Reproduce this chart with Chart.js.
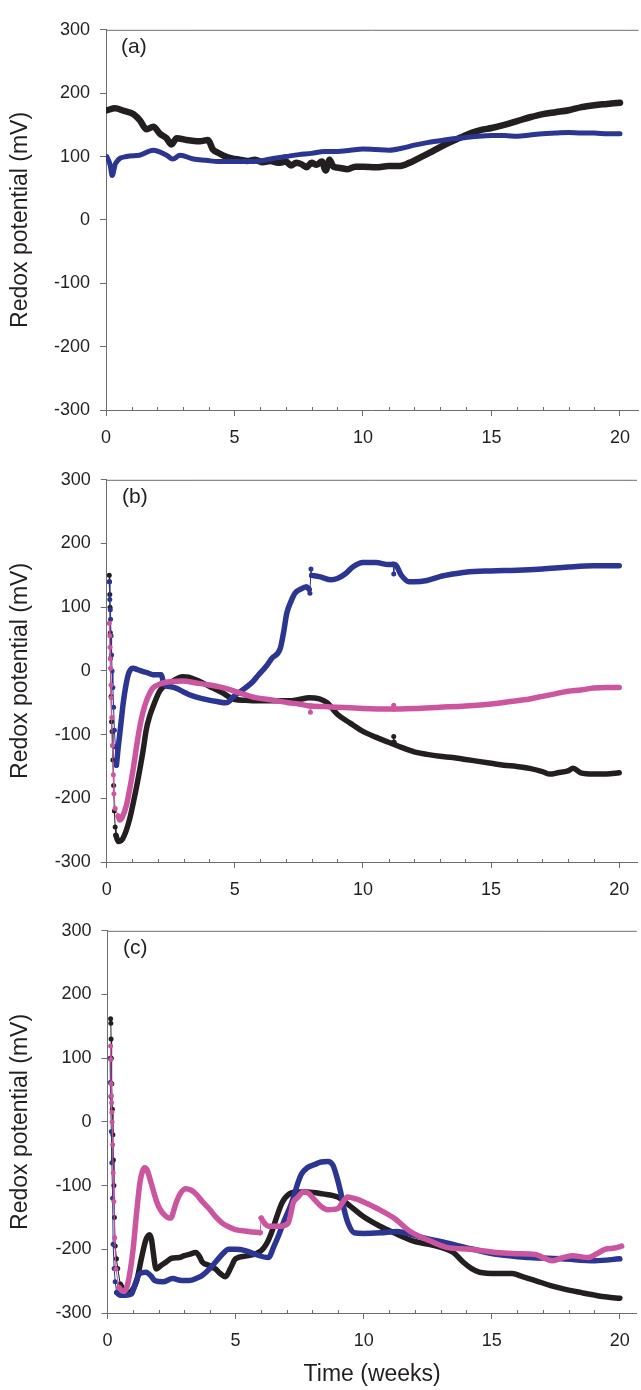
<!DOCTYPE html>
<html><head><meta charset="utf-8">
<script src="https://cdn.jsdelivr.net/npm/chart.js@4.4.1/dist/chart.umd.min.js"></script>
<style>
html,body{margin:0;padding:0;background:#fff;width:641px;height:1390px;overflow:hidden;position:relative;}
canvas{position:absolute;left:0;}
.lbl{position:absolute;font:21px "Liberation Sans",Arial,sans-serif;color:#231f20;line-height:24px;}
</style></head><body>
<canvas id="ca" width="641" height="441" style="top:8.7px"></canvas>
<canvas id="cb" width="641" height="443" style="top:459px"></canvas>
<canvas id="cc" width="641" height="481" style="top:909.7px"></canvas>
<div class="lbl" style="left:121px;top:34px">(a)</div>
<div class="lbl" style="left:122px;top:484px">(b)</div>
<div class="lbl" style="left:123px;top:935px">(c)</div>
<script>
// ---------- data (weeks, mV) ----------
const yTickValues = [-300, -200, -100, 0, 100, 200, 300];
const xTickValues = [0, 5, 10, 15, 20];
const xMinorTicks = [1,2,3,4,6,7,8,9,11,12,13,14,16,17,18,19];

// Panel (a)
const aBlackWeeks = [0.03,0.35,0.7,1.06,1.32,1.58,1.84,2.1,2.35,2.55,2.75,3.13,3.65,3.97,4.16,4.36,4.6,4.9,5.2,5.5,5.8,6.1,6.4,6.7,7.0,7.2,7.4,7.6,7.8,8.0,8.2,8.4,8.55,8.7,8.85,9.1,9.4,9.7,10.0,10.5,11.0,11.4,11.8,12.2,12.6,13.0,13.4,13.8,14.2,14.6,15.0,15.5,16.0,16.5,17.0,17.5,18.0,18.5,19.0,19.5,20.0];
const aBlackMv    = [173,176,172,167,157,143,147,136,129,119,129,126,124,126,111,106,101,97,95,93,95,91,93,90,92,86,90,88,83,90,87,92,78,95,84,82,80,84,84,83,85,85,90,98,106,115,123,130,137,142,145,150,156,162,167,170,173,178,181,183,185];
const aBlueWeeks  = [0.03,0.16,0.24,0.37,0.8,1.3,1.84,2.36,2.6,2.88,3.4,3.9,4.36,5.0,5.5,6.0,6.5,7.0,7.5,8.0,8.5,9.0,9.5,10.0,10.5,11.0,11.5,12.0,12.5,13.0,13.5,14.0,14.5,15.0,15.5,16.0,16.5,17.0,17.5,18.0,18.5,19.0,19.5,20.0];
const aBlueMv     = [100,87,70,89,100,102,110,102,96,102,96,94,92,92,92,93,97,100,103,105,108,108,110,112,111,110,113,118,122,125,128,130,132,133,133,132,134,136,137,138,137,137,136,136];

// Panel (b)
const bBlackDotWeeks = [0.1,0.11,0.12,0.13,0.14,0.15,0.17,0.19,0.21,0.24,0.27,0.3,0.33,0.36,11.0,11.18,11.2,11.22];
const bBlackDotMv    = [150,140,120,100,60,20,-40,-80,-95,-140,-180,-220,-245,-258,null,-112,-103,-112];
const bBlackWeeks = [0.36,0.45,0.6,0.75,0.9,1.1,1.29,1.42,1.54,1.67,1.8,2.06,2.3,2.58,2.96,3.2,3.48,3.75,4.0,4.5,5.0,5.4,5.8,6.5,7.1,7.5,7.9,8.3,8.6,9.0,9.5,10.0,10.5,11.0,11.5,12.0,12.5,13.0,13.5,14.0,14.5,15.0,15.5,16.0,16.5,17.0,17.3,17.6,18.0,18.2,18.5,19.0,19.5,20.0];
const bBlackMv    = [-258,-268,-265,-252,-232,-195,-155,-125,-93,-72,-57,-32,-22,-16,-9,-10,-14,-19,-24,-34,-45,-46,-47,-47,-47,-45,-42,-44,-50,-68,-82,-95,-104,-112,-120,-127,-131,-134,-136,-139,-142,-145,-148,-150,-153,-158,-162,-160,-157,-153,-160,-162,-162,-160];
const bBlueDotWeeks = [0.1,0.12,0.14,0.15,0.17,0.19,0.21,0.24,0.27,0.3,0.34,0.38,7.0,7.9,7.93,7.97,8.0,10.0,11.18,11.2,11.22];
const bBlueDotMv    = [140,112,96,81,55,25,0,-26,-57,-93,-119,-148,null,128,122,160,150,null,168,152,167];
const bBlueWeeks = [0.38,0.45,0.55,0.64,0.74,0.84,0.93,1.03,1.2,1.42,1.6,1.8,2.0,2.13,2.2,2.26,2.5,2.7,3.0,3.2,3.5,3.9,4.3,4.64,4.8,4.9,5.1,5.4,5.7,5.93,6.2,6.45,6.77,6.9,7.03,7.2,7.35,7.55,7.8,7.9,7.95,8.0,8.3,8.77,9.0,9.3,9.6,10.0,10.5,11.0,11.25,11.5,11.8,12.0,12.5,13.0,13.5,14.0,15.0,16.0,17.0,18.0,19.0,20.0];
const bBlueMv    = [-148,-120,-85,-52,-25,-6,2,4,2,-1,-3,-6,-6,-6,-16,-22,-25,-27,-33,-37,-41,-45,-48,-50,-47,-42,-36,-27,-17,-6,6,20,35,60,91,110,122,128,132,128,null,150,148,143,145,152,163,170,170,167,167,150,140,140,142,148,152,155,157,158,160,163,165,165];
const bPinkDotWeeks = [0.1,0.12,0.13,0.14,0.15,0.17,0.18,0.2,0.22,0.26,0.28,0.33,0.45,7.9,7.93,7.95,7.97,10.0,11.18,11.2,11.22];
const bPinkDotMv    = [75,55,37,19,4,-22,-42,-73,-117,-163,-193,-216,-228,null,-55,-65,-55,null,-60,-54,-60];
const bPinkWeeks = [0.45,0.51,0.6,0.77,0.9,1.03,1.16,1.29,1.42,1.55,1.67,1.8,2.0,2.19,2.5,2.96,3.5,4.0,4.4,4.77,5.3,5.8,6.5,7.09,7.5,7.93,8.5,8.95,9.5,10.0,11.0,12.0,13.0,14.0,15.0,16.0,16.5,17.0,17.5,18.0,18.5,19.0,19.5,20.0];
const bPinkMv    = [-228,-234,-230,-211,-185,-155,-120,-88,-64,-47,-36,-27,-22,-19,-17,-16,-19,-22,-25,-29,-36,-42,-46,-50,-52,-55,-56,-57,-58,-59,-60,-59,-57,-55,-52,-47,-44,-40,-36,-32,-30,-27,-26,-26];

// Panel (c)
const cBlackDotWeeks = [0.12,0.13,0.14,0.15,0.17,0.19,0.21,0.23,0.25,0.27,0.3,0.35,0.4,0.5];
const cBlackDotMv    = [162,155,130,100,60,20,-20,-60,-100,-150,-195,-215,-230,-255];
const cBlackWeeks = [0.5,0.74,0.95,1.13,1.32,1.5,1.64,1.72,1.77,1.9,2.1,2.29,2.5,2.8,3.0,3.19,3.45,3.6,3.7,3.95,4.22,4.4,4.6,4.8,5.0,5.5,6.0,6.2,6.4,6.6,6.8,7.1,7.44,7.8,8.4,8.99,9.5,10.0,10.6,11.18,11.95,12.85,13.5,13.88,14.2,14.52,15.2,15.8,16.2,16.7,17.3,18.0,18.5,19.03,19.5,20.0];
const cBlackMv    = [-255,-270,-265,-251,-215,-185,-177,-185,-200,-231,-225,-220,-214,-213,-210,-208,-205,-212,-220,-225,-231,-238,-243,-230,-215,-210,-202,-192,-174,-150,-128,-113,-110,-110,-113,-118,-133,-149,-163,-174,-187,-195,-205,-220,-230,-236,-238,-238,-243,-249,-257,-264,-268,-272,-275,-277];
const cBlueDotWeeks = [0.1,0.11,0.13,0.15,0.17,0.2,0.22,0.26,0.3,0.36];
const cBlueDotMv    = [100,62,40,-15,-64,-120,-192,-230,-251,-268];
const cBlueWeeks = [0.36,0.5,0.7,0.94,1.1,1.26,1.5,1.7,1.84,2.16,2.54,2.9,3.19,3.5,3.7,4.0,4.22,4.5,4.73,5.0,5.38,5.77,6.28,6.5,6.67,6.9,7.18,7.44,7.57,7.8,8.08,8.34,8.6,8.8,8.92,9.1,9.24,9.4,9.63,10.0,10.66,11.3,11.8,12.34,13.24,14.27,15.17,16.46,17.75,19.03,20.0];
const cBlueMv    = [-268,-272,-272,-270,-252,-238,-236,-242,-249,-251,-246,-249,-249,-245,-241,-230,-220,-207,-200,-200,-202,-208,-213,-195,-179,-155,-128,-95,-82,-72,-67,-63,-62,-68,-82,-110,-138,-160,-174,-175,-174,-172,-176,-182,-190,-200,-208,-213,-215,-218,-215];
const cPinkDotWeeks = [0.12,0.13,0.14,0.15,0.16,0.17,0.18,0.2,0.22,0.25,0.28,0.33,0.45,3.0,5.96,6.0];
const cPinkDotMv    = [119,98,60,41,30,15,0,-36,-80,-125,-182,-231,-260,null,-174,-151];
const cPinkWeeks = [0.45,0.6,0.74,0.87,1.0,1.13,1.26,1.36,1.45,1.55,1.64,1.77,1.9,2.05,2.22,2.35,2.48,2.58,2.67,2.85,3.06,3.25,3.45,3.7,3.96,4.2,4.48,4.75,4.99,5.5,5.96,5.98,6.0,6.15,6.28,6.67,7.05,7.15,7.24,7.44,7.63,7.85,8.08,8.35,8.6,8.99,9.2,9.37,9.7,10.02,10.53,11.18,11.82,12.6,13.24,14.14,15.17,16.0,16.71,17.0,17.36,17.7,18.13,18.77,19.1,19.42,19.8,20.07];
const cPinkMv    = [-260,-266,-261,-238,-200,-145,-97,-78,-72,-76,-87,-105,-123,-137,-146,-150,-151,-140,-128,-112,-105,-107,-113,-125,-136,-148,-159,-165,-169,-172,-174,null,-151,-160,-164,-164,-159,-145,-128,-118,-110,-112,-122,-133,-138,-136,-125,-118,-121,-126,-136,-151,-172,-187,-197,-200,-205,-207,-208,-213,-218,-214,-210,-213,-207,-200,-198,-195];

// ---------- styling ----------
const BLACK = '#231f20', BLUE = '#2b3592', PINK = '#cc559f';
const FONT = '"Liberation Sans", Arial, sans-serif';
const AXIS = '#6d6d6d';

function pts(xs, ys) { return xs.map((x, i) => ({x: x, y: ys[i]})); }
function trace(xs, ys, color, width, order) {
  return {data: pts(xs, ys), borderColor: color, backgroundColor: color, borderWidth: width,
    pointRadius: 0, cubicInterpolationMode: 'monotone', borderJoinStyle: 'round', borderCapStyle: 'round',
    spanGaps: false, order: order};
}
function dots(xs, ys, color, order) {
  return {data: pts(xs, ys), borderColor: color, backgroundColor: color, borderWidth: 1,
    pointRadius: 2.5, pointBorderWidth: 0, pointBackgroundColor: color, tension: 0, spanGaps: false, order: order};
}

const framePlugin = {
  id: 'frame',
  afterDraw(chart) {
    const {ctx, chartArea} = chart;
    const xs = chart.scales.x;
    ctx.save();
    ctx.strokeStyle = AXIS; ctx.lineWidth = 1;
    ctx.beginPath();
    ctx.moveTo(chartArea.left, chartArea.top + 0.5);
    ctx.lineTo(chartArea.right, chartArea.top + 0.5);
    xMinorTicks.forEach(v => {
      const px = Math.round(xs.getPixelForValue(v)) + 0.5;
      ctx.moveTo(px, chartArea.bottom);
      ctx.lineTo(px, chartArea.bottom - 3);
    });
    ctx.stroke();
    ctx.restore();
  }
};

function makeChart(id, datasets, axisLeft, areaHeight, xAxisHeight, showXTitle) {
  const c = document.getElementById(id);
  return new Chart(c, {
    type: 'line',
    data: {datasets: datasets},
    plugins: [framePlugin],
    options: {
      responsive: false, animation: false, devicePixelRatio: 1,
      layout: {padding: {top: 12, left: 0, right: 0, bottom: 0}},
      plugins: {legend: {display: false}, tooltip: {enabled: false}, title: {display: false}},
      scales: {
        x: {
          type: 'linear', min: 0, max: (641 - axisLeft) / 25.82,
          afterBuildTicks: s => { s.ticks = xTickValues.map(v => ({value: v})); },
          afterFit: s => { s.height = xAxisHeight; },
          ticks: {autoSkip: false, maxRotation: 0, padding: 11, color: BLACK,
            font: {family: FONT, size: 18}, callback: v => String(v)},
          grid: {drawOnChartArea: false, drawTicks: true, tickLength: 6, tickColor: AXIS},
          border: {display: true, color: AXIS, width: 1},
          title: {display: showXTitle, text: 'Time (weeks)', color: BLACK,
            font: {family: FONT, size: 23}, padding: {top: 0, bottom: 3}}
        },
        y: {
          type: 'linear', min: -300, max: 300,
          afterBuildTicks: s => { s.ticks = yTickValues.map(v => ({value: v})); },
          afterFit: s => { s.width = axisLeft; },
          ticks: {padding: 10, color: BLACK, font: {family: FONT, size: 18}, callback: v => String(v)},
          grid: {drawOnChartArea: false, drawTicks: true, tickLength: 6, tickColor: AXIS},
          border: {display: true, color: AXIS, width: 1},
          title: {display: true, text: 'Redox potential (mV)', color: BLACK,
            font: {family: FONT, size: 23}, padding: {top: 7, bottom: 0}}
        }
      }
    }
  });
}

makeChart('ca', [
  trace(aBlueWeeks, aBlueMv, BLUE, 5, 1),
  trace(aBlackWeeks, aBlackMv, BLACK, 6.5, 2)
], 106, 389, 40, false);

makeChart('cb', [
  dots(bPinkDotWeeks, bPinkDotMv, PINK, 0),
  trace(bPinkWeeks, bPinkMv, PINK, 5.5, 1),
  dots(bBlueDotWeeks, bBlueDotMv, BLUE, 2),
  trace(bBlueWeeks, bBlueMv, BLUE, 5.5, 3),
  dots(bBlackDotWeeks, bBlackDotMv, BLACK, 4),
  trace(bBlackWeeks, bBlackMv, BLACK, 5.5, 5)
], 106.7, 391, 40, false);

makeChart('cc', [
  dots(cPinkDotWeeks, cPinkDotMv, PINK, 0),
  trace(cPinkWeeks, cPinkMv, PINK, 5.5, 1),
  dots(cBlueDotWeeks, cBlueDotMv, BLUE, 2),
  trace(cBlueWeeks, cBlueMv, BLUE, 5.5, 3),
  dots(cBlackDotWeeks, cBlackDotMv, BLACK, 4),
  trace(cBlackWeeks, cBlackMv, BLACK, 5.5, 5)
], 107.5, 391, 78, true);
</script>
</body></html>
